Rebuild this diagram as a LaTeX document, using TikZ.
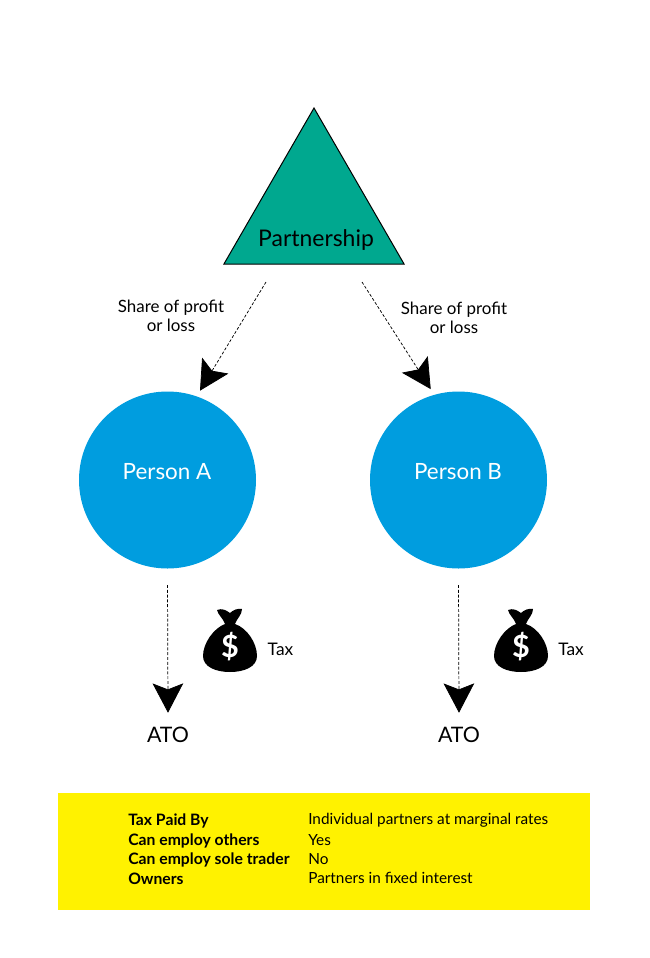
\documentclass[tikz,border=0pt]{standalone}
\usepackage{fontspec}
\setmainfont{Lato}
\usetikzlibrary{arrows.meta,shapes.geometric}
\definecolor{teal}{HTML}{00A88F}
\definecolor{personblue}{HTML}{009DDF}
\definecolor{boxyellow}{HTML}{FFF200}
\tikzset{
  flow/.style={-{Stealth[length=22pt,width=23pt,inset=4.5pt]}, dashed, dash pattern=on 2.2pt off 1.4pt, line width=0.55pt},
  person/.style={circle, fill=personblue, minimum size=132.75pt, inner sep=0pt, outer sep=4.9pt},
  personlabel/.style={text=white, inner sep=0pt, font=\fontsize{16.8}{20}\selectfont},
  share/.style={align=center, inner sep=0pt, font=\fontsize{12.7}{14.3}\selectfont},
  ato/.style={inner sep=0pt, minimum height=33pt, font=\fontsize{16}{19}\selectfont},
  taxlabel/.style={inner sep=0pt, font=\fontsize{13}{15}\selectfont},
  rowkey/.style={anchor=west, inner sep=0pt, font=\fontsize{11.8}{13}\selectfont\bfseries},
  rowval/.style={anchor=west, inner sep=0pt, font=\fontsize{11.5}{13}\selectfont},
  moneybag/.pic={
    \fill[black] (-13,-41) .. controls (-8,-43) and (-4,-41) .. (0,-38)
      .. controls (3,-41) and (8,-43) .. (12,-42)
      .. controls (12,-36) and (7,-33) .. (5,-27)
      .. controls (17,-23) and (27,-8) .. (27,5)
      .. controls (27,16) and (14,21) .. (0,21)
      .. controls (-14,21) and (-27,16) .. (-27,5)
      .. controls (-27,-8) and (-16,-23) .. (-5,-27)
      .. controls (-7,-33) and (-12,-36) .. (-13,-41) -- cycle;
    \node[text=white, inner sep=0pt, font=\fontsize{23}{26}\selectfont\bfseries] (-dollar) at (0,-4) {\$};
  }
}
\begin{document}
\begin{tikzpicture}[x=0.75pt, y=-0.75pt]
\useasboundingbox (0,0) rectangle (650,958);
\node[regular polygon, regular polygon sides=3, minimum size=156pt, inner sep=0pt, fill=teal, draw=black, line width=0.75pt] (partnership) at (314,212) {};
\node[inner sep=0pt, font=\fontsize{17.2}{20}\selectfont] (partnershiplabel) at (316,240) {Partnership};
\node[person] (personA) at (167.5,480) {};
\node[person] (personB) at (458.5,480) {};
\node[personlabel] (labelA) at (167,472) {Person A};
\node[personlabel] (labelB) at (458,472) {Person B};
\node[share] (shareA) at (171,315.5) {Share of profit\\or loss};
\node[share] (shareB) at (454,317.5) {Share of profit\\or loss};
\node[ato] (atoA) at (168,735) {ATO};
\node[ato] (atoB) at (459,735) {ATO};
\coordinate (startA) at (266,282);
\coordinate (startB) at (362,282);
\draw[flow] (startA) -- (personA.70.7);
\draw[flow] (startB) -- (personB.107.6);
\draw[flow, shorten <=7.5pt] (personA.south) -- (atoA.north);
\draw[flow, shorten <=7.5pt] (personB.south) -- (atoB.north);
\pic (bagA) at (230,651) {moneybag};
\pic (bagB) at (521,651) {moneybag};
\node[taxlabel] (taxA) at (280.5,649) {Tax};
\node[taxlabel] (taxB) at (571,649) {Tax};
\fill[boxyellow] (58,793) rectangle (590,910);
\node[rowkey] (keyA) at (128,821) {Tax Paid By};
\node[rowkey] (keyB) at (128,840.5) {Can employ others};
\node[rowkey] (keyC) at (128,860) {Can employ sole trader};
\node[rowkey] (keyD) at (128,878.5) {Owners};
\node[rowval] (valA) at (308,820.5) {Individual partners at marginal rates};
\node[rowval] (valB) at (308,840) {Yes};
\node[rowval] (valC) at (308,859) {No};
\node[rowval] (valD) at (308,878) {Partners in fixed interest};
\end{tikzpicture}
\end{document}
